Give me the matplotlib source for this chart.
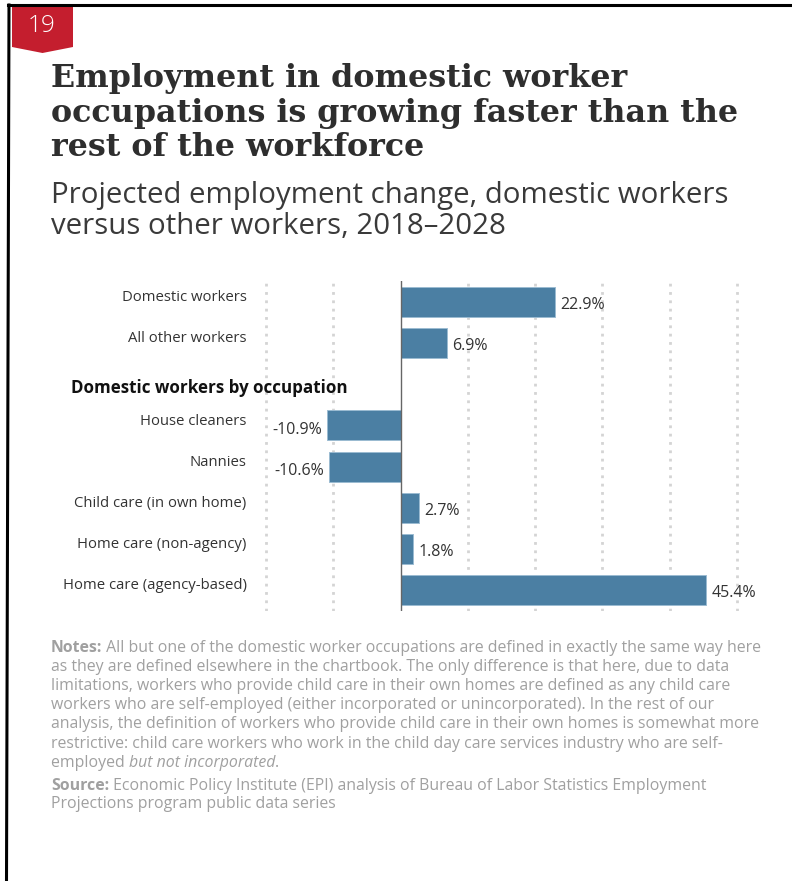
import matplotlib
matplotlib.use("Agg")
import matplotlib.pyplot as plt
from matplotlib.patches import Polygon
from matplotlib.lines import Line2D
from matplotlib.transforms import blended_transform_factory

# ---- data ----
categories = [
    "Domestic workers",
    "All other workers",
    "Domestic workers by occupation",
    "House cleaners",
    "Nannies",
    "Child care (in own home)",
    "Home care (non-agency)",
    "Home care (agency-based)",
]
values = [22.9, 6.9, None, -10.9, -10.6, 2.7, 1.8, 45.4]
value_labels = ["22.9%", "6.9%", None, "-10.9%", "-10.6%", "2.7%", "1.8%", "45.4%"]
heading_index = 2
grid_ticks = [-20, -10, 10, 20, 30, 40, 50]

title_lines = [
    "Employment in domestic worker",
    "occupations is growing faster than the",
    "rest of the workforce",
]
subtitle_lines = [
    "Projected employment change, domestic workers",
    "versus other workers, 2018\u20132028",
]
notes_lines = [
    [("Notes:", "bold"), (" All but one of the domestic worker occupations are defined in exactly the same way here", "normal")],
    [("as they are defined elsewhere in the chartbook. The only difference is that here, due to data", "normal")],
    [("limitations, workers who provide child care in their own homes are defined as any child care", "normal")],
    [("workers who are self-employed (either incorporated or unincorporated). In the rest of our", "normal")],
    [("analysis, the definition of workers who provide child care in their own homes is somewhat more", "normal")],
    [("restrictive: child care workers who work in the child day care services industry who are self-", "normal")],
    [("employed ", "normal"), ("but not incorporated", "italic"), (".", "normal")],
]
source_lines = [
    [("Source:", "bold"), (" Economic Policy Institute (EPI) analysis of Bureau of Labor Statistics Employment", "normal")],
    [("Projections program public data series", "normal")],
]
badge_text = "19"

# ---- styling ----
W, H = 792, 881
BAR = "#4b7fa3"
DARK = "#333333"
GREY = "#a0a0a0"
SANS = "Open Sans"
SERIF = "DejaVu Serif"

fig = plt.figure(figsize=(W / 100, H / 100), dpi=100)
fig.patch.set_facecolor("white")
renderer = fig.canvas.get_renderer()


def fx(x):
    return x / W


def fy(y):
    return 1 - y / H


def fit_size(text, width_px, **kw):
    """Font size (pt) at which `text` spans width_px pixels."""
    t = fig.text(0, 0, text, fontsize=10, **kw)
    w = t.get_window_extent(renderer=renderer).width
    t.remove()
    return 10 * width_px / w


# page frame lines
fig.add_artist(Line2D([fx(8), fx(W)], [fy(5), fy(5)], color="black", lw=2.2,
                      transform=fig.transFigure))
fig.add_artist(Line2D([fx(9), fx(6.5)], [fy(5), fy(H)], color="black", lw=2.2,
                      transform=fig.transFigure))

# chart number badge
badge = Polygon([(fx(12), fy(7)), (fx(73), fy(7)), (fx(73), fy(47)),
                 (fx(42.5), fy(53)), (fx(12), fy(47))],
                closed=True, facecolor="#c41e2e", edgecolor="none",
                transform=fig.transFigure)
fig.add_artist(badge)
fig.text(fx(41.5), fy(26.5), badge_text, color="white", fontsize=17.5,
         family=SANS, weight="light", ha="center", va="center")

# title
title_kw = dict(family=SERIF, weight="bold", color="#2e2e2e")
title_size = fit_size(title_lines[1], 690, **title_kw)
for i, line in enumerate(title_lines):
    fig.text(fx(51), fy(87 + 34.7 * i), line, fontsize=title_size,
             va="baseline", ha="left", **title_kw)

# subtitle
sub_kw = dict(family=SANS, weight="normal", color="#3a3a3a")
sub_size = fit_size(subtitle_lines[0], 675, **sub_kw)
for i, line in enumerate(subtitle_lines):
    fig.text(fx(51), fy(203 + 31 * i), line, fontsize=sub_size,
             va="baseline", ha="left", **sub_kw)

# ---- bar chart ----
row_px = 41.14
top_row_y = 302
n = len(categories)
ax_top = top_row_y - 0.5 * row_px
ax_bot = top_row_y + (n - 0.5) * row_px
xmin, xmax = -21, 51
px_per_unit = (737 - 266) / 70
ax_left = 266 - (-20 - xmin) * px_per_unit
ax_w = (xmax - xmin) * px_per_unit
ax = fig.add_axes([fx(ax_left), fy(ax_bot), ax_w / W, (ax_bot - ax_top) / H])
ax.set_xlim(xmin, xmax)
ax.set_ylim(n - 0.5, -0.5)
ax.axis("off")

for g in grid_ticks:
    ax.axvline(g, color="#d4d4d4", lw=2.0, linestyle=(0, (1, 2)), zorder=0)
ax.axvline(0, color="#666666", lw=1.0, zorder=3)

rows = [i for i, v in enumerate(values) if v is not None]
ax.barh(rows, [values[i] for i in rows], height=0.73, color=BAR,
        edgecolor="#9bbbd2", linewidth=0.7, zorder=2)

val_kw = dict(family=SANS, color=DARK)
val_size = fit_size("22.9%", 45, **val_kw)
for i in rows:
    v = values[i]
    if v >= 0:
        ax.annotate(value_labels[i], (v, i), xytext=(4.0, -2.2),
                    textcoords="offset points", ha="left", va="center",
                    fontsize=val_size, **val_kw)
    else:
        ax.annotate(value_labels[i], (v, i), xytext=(-3.5, -3),
                    textcoords="offset points", ha="right", va="center",
                    fontsize=val_size, **val_kw)

# category labels
lab_kw = dict(family=SANS, color=DARK)
lab_size = fit_size("Home care (agency-based)", 183, **lab_kw)
head_kw = dict(family=SANS, weight="bold", color="#111111")
head_size = fit_size(categories[heading_index], 278, **head_kw)
lab_tr = blended_transform_factory(fig.transFigure, ax.transData)
for i, name in enumerate(categories):
    if i == heading_index:
        ax.annotate(name, (fx(71), i), xycoords=lab_tr, xytext=(0, -3),
                    textcoords="offset points", ha="left", va="center",
                    fontsize=head_size, **head_kw)
        continue
    ax.annotate(name, (fx(246.5), i), xycoords=lab_tr, xytext=(0, 3),
                textcoords="offset points", ha="right", va="center",
                fontsize=lab_size, **lab_kw)

# ---- notes & source ----
note_kw = dict(family=SANS, color=GREY)


def part_kw(style, size):
    kw = dict(fontsize=size, va="baseline", ha="left", **note_kw)
    if style == "bold":
        kw["weight"] = "bold"
    elif style == "italic":
        kw["style"] = "italic"
    return kw


def rich_width(parts, size):
    total = 0
    for text, style in parts:
        t = fig.text(0, 0, text, **part_kw(style, size))
        total += t.get_window_extent(renderer=renderer).width
        t.remove()
    return total


note_size = 10 * (762 - 51) / rich_width(notes_lines[0], 10)


def rich_line(x, y, parts):
    cur = x
    for text, style in parts:
        t = fig.text(fx(cur), fy(y), text, **part_kw(style, note_size))
        cur += t.get_window_extent(renderer=renderer).width


for i, parts in enumerate(notes_lines):
    rich_line(51, 652 + 19.1 * i, parts)
for i, parts in enumerate(source_lines):
    rich_line(51, 790 + 18.5 * i, parts)

fig.savefig("out.png", dpi=100, facecolor="white")
